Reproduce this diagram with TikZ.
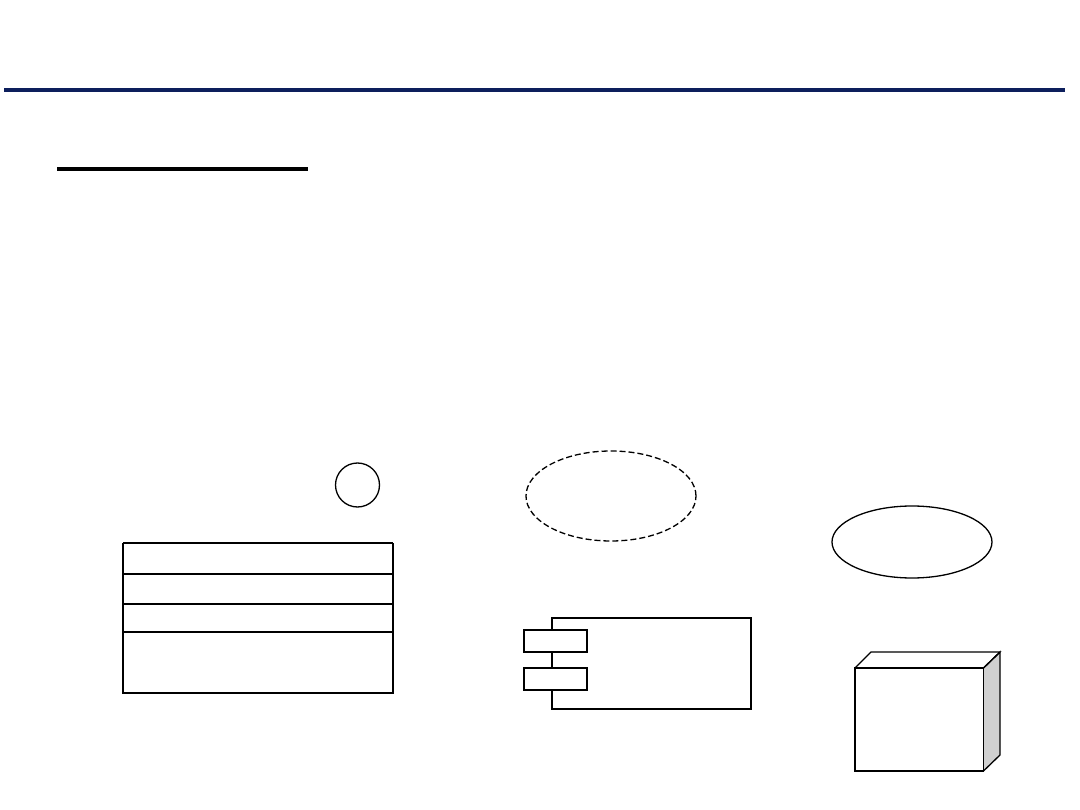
\documentclass[tikz,border=0pt]{standalone}
\usetikzlibrary{shapes.geometric}
\definecolor{navy}{RGB}{13,31,92}
\definecolor{sidegray}{RGB}{208,208,208}
\tikzset{
  thin line/.style={draw=black, line width=1.3pt},
  thick line/.style={draw=black, line width=2pt},
}
\begin{document}
\begin{tikzpicture}[x=1pt,y=-1pt]
\useasboundingbox[fill=white] (0,0) rectangle (1080,810);
% header rule and underline
\draw[navy, line width=4pt] (4,90) -- (1065,90);
\draw[black, line width=3.5pt] (57,169) -- (308,169);
% class box with small interface circle
\node[thin line, circle, minimum size=44pt, inner sep=0pt] (iface) at (357.5,485) {};
\draw[thin line] (123,632) rectangle (393,693);
\draw[thin line] (123,574) -- (393,574);
\draw[thin line] (123,604) -- (393,604);
\draw[thick line] (123,543) -- (393,543);
\draw[thick line] (123,632) -- (393,632);
\draw[thick line] (123,543) -- (123,641);
\draw[thick line] (393,543) -- (393,632);
% dashed ellipse
\node[draw=black, line width=1.3pt, dash pattern=on 6pt off 3pt, ellipse, minimum width=170pt, minimum height=90pt, inner sep=0pt] (coll) at (611,496) {};
% solid ellipse
\node[thin line, ellipse, minimum width=160pt, minimum height=72pt, inner sep=0pt] (usecase) at (912,542) {};
% component
\draw[thick line] (552,617.5) rectangle (750.5,709);
\node[thick line, fill=white, minimum width=63pt, minimum height=22.5pt, inner sep=0pt] (port1) at (555.5,641) {};
\node[thick line, fill=white, minimum width=63pt, minimum height=22.5pt, inner sep=0pt] (port2) at (555.5,678.8) {};
% node (3D box)
\fill[sidegray] (983.5,668) -- (1000,652) -- (1000,755) -- (983.5,771) -- cycle;
\draw[thin line, line join=miter] (855,668) -- (871,652) -- (1000,652) -- (983.5,668);
\draw[thin line] (983.5,668) -- (1000,652) -- (1000,755) -- (983.5,771);
\draw[thin line] (855,668) rectangle (983.5,771);
\end{tikzpicture}
\end{document}
